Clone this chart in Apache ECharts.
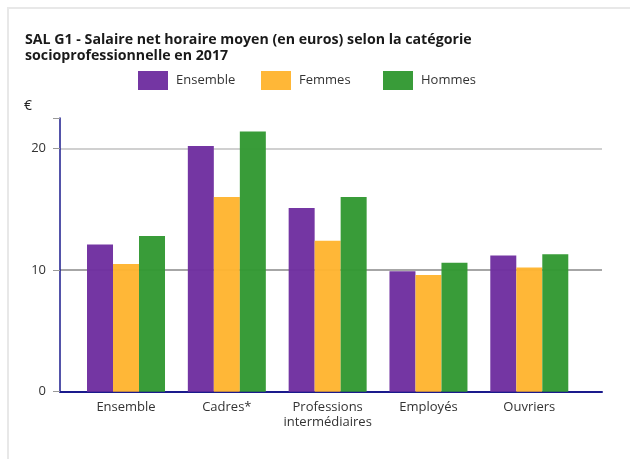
<!DOCTYPE html>
<html>
<head>
<meta charset="utf-8">
<script src="https://cdn.jsdelivr.net/npm/echarts@6/dist/echarts.min.js"></script>
<style>
  body { margin: 0; background: #fff; }
  .frame {
    position: absolute; left: 7px; top: 7px; width: 660px; height: 480px;
    border: 2px solid #e8e8e8;
  }
  #chartBox { position: absolute; left: 0; top: 0; width: 630px; height: 459px; }
</style>
</head>
<body>
<div class="frame"></div>
<div id="chartBox"></div>
<script>
// catégories socioprofessionnelles
var categories = ["Ensemble", "Cadres*", "Professions\nintermédiaires", "Employés", "Ouvriers"];
// salaire net horaire moyen (euros)
var ensemble = [12.1, 20.2, 15.1, 9.9, 11.2];
var femmes = [10.5, 16.0, 12.4, 9.6, 10.2];
var hommes = [12.8, 21.4, 16.0, 10.6, 11.3];
var yTicks = [0, 10, 20];

var font = "Open Sans";
var seriesNames = ["Ensemble", "Femmes", "Hommes"];
var colors = ["#7030a0", "#ffb531", "#339933"];
var legendLeft = [138, 261, 383];

var myChart = echarts.init(document.getElementById("chartBox"));

// une légende par série pour garder l'espacement d'origine
var legends = seriesNames.map(function (n, i) {
  return {
    data: [n],
    left: legendLeft[i],
    top: 71,
    padding: 0,
    itemWidth: 30,
    itemHeight: 19,
    icon: "rect",
    textStyle: { fontFamily: font, fontSize: 13, color: "#333", padding: [0, 0, 0, 3] }
  };
});

var option = {
  animation: false,
  textStyle: { fontFamily: font },
  title: {
    text: "SAL G1 - Salaire net horaire moyen (en euros) selon la catégorie\nsocioprofessionnelle en 2017",
    left: 20,
    top: 27,
    textStyle: { fontFamily: font, fontSize: 14.2, fontWeight: "bold", color: "#1a1a1a", lineHeight: 16 }
  },
  legend: legends,
  graphic: [{
    type: "text", left: 24, top: 99,
    style: { text: "€", fontFamily: font, fontSize: 14, fill: "#222" }
  }],
  grid: [
    // barres
    { left: 75.6, right: 50.3, top: 118, bottom: 67.3 },
    // cadre des axes
    { left: 60, right: 28, top: 118, bottom: 67.3 }
  ],
  xAxis: [
    {
      type: "category", gridIndex: 0, data: categories,
      axisLine: { show: false }, axisTick: { show: false },
      axisLabel: { interval: 0, fontFamily: font, fontSize: 13, color: "#333", margin: 8, lineHeight: 15 }
    },
    {
      type: "value", gridIndex: 1, min: 0, max: 1,
      axisLine: { show: true, lineStyle: { color: "#1a1a8c", width: 2 } },
      axisTick: { show: false }, axisLabel: { show: false }, splitLine: { show: false }
    }
  ],
  yAxis: [
    {
      type: "value", gridIndex: 0, min: 0, max: 22.5, interval: 10,
      show: false, splitLine: { show: false }
    },
    {
      type: "value", gridIndex: 1, min: 0, max: 22.5, interval: 10,
      axisLine: { show: true, lineStyle: { color: "#1a1a8c", width: 1.5 } },
      axisTick: { show: true, length: 7, lineStyle: { color: "#999" } },
      axisLabel: {
        fontFamily: font, fontSize: 13, color: "#333", margin: 14,
        formatter: function (v) { return yTicks.indexOf(v) >= 0 ? String(v) : ""; }
      },
      splitLine: {
        show: true,
        lineStyle: { color: ["#888", "#888", "#c0c0c0", "rgba(0,0,0,0)"], width: 1.5 }
      }
    }
  ],
  series: [ensemble, femmes, hommes].map(function (d, i) {
    return {
      name: seriesNames[i], type: "bar", data: d,
      xAxisIndex: 0, yAxisIndex: 0,
      barWidth: 26, barGap: "0%",
      itemStyle: { color: colors[i], opacity: 0.97 }
    };
  })
};

myChart.setOption(option);
</script>
</body>
</html>
